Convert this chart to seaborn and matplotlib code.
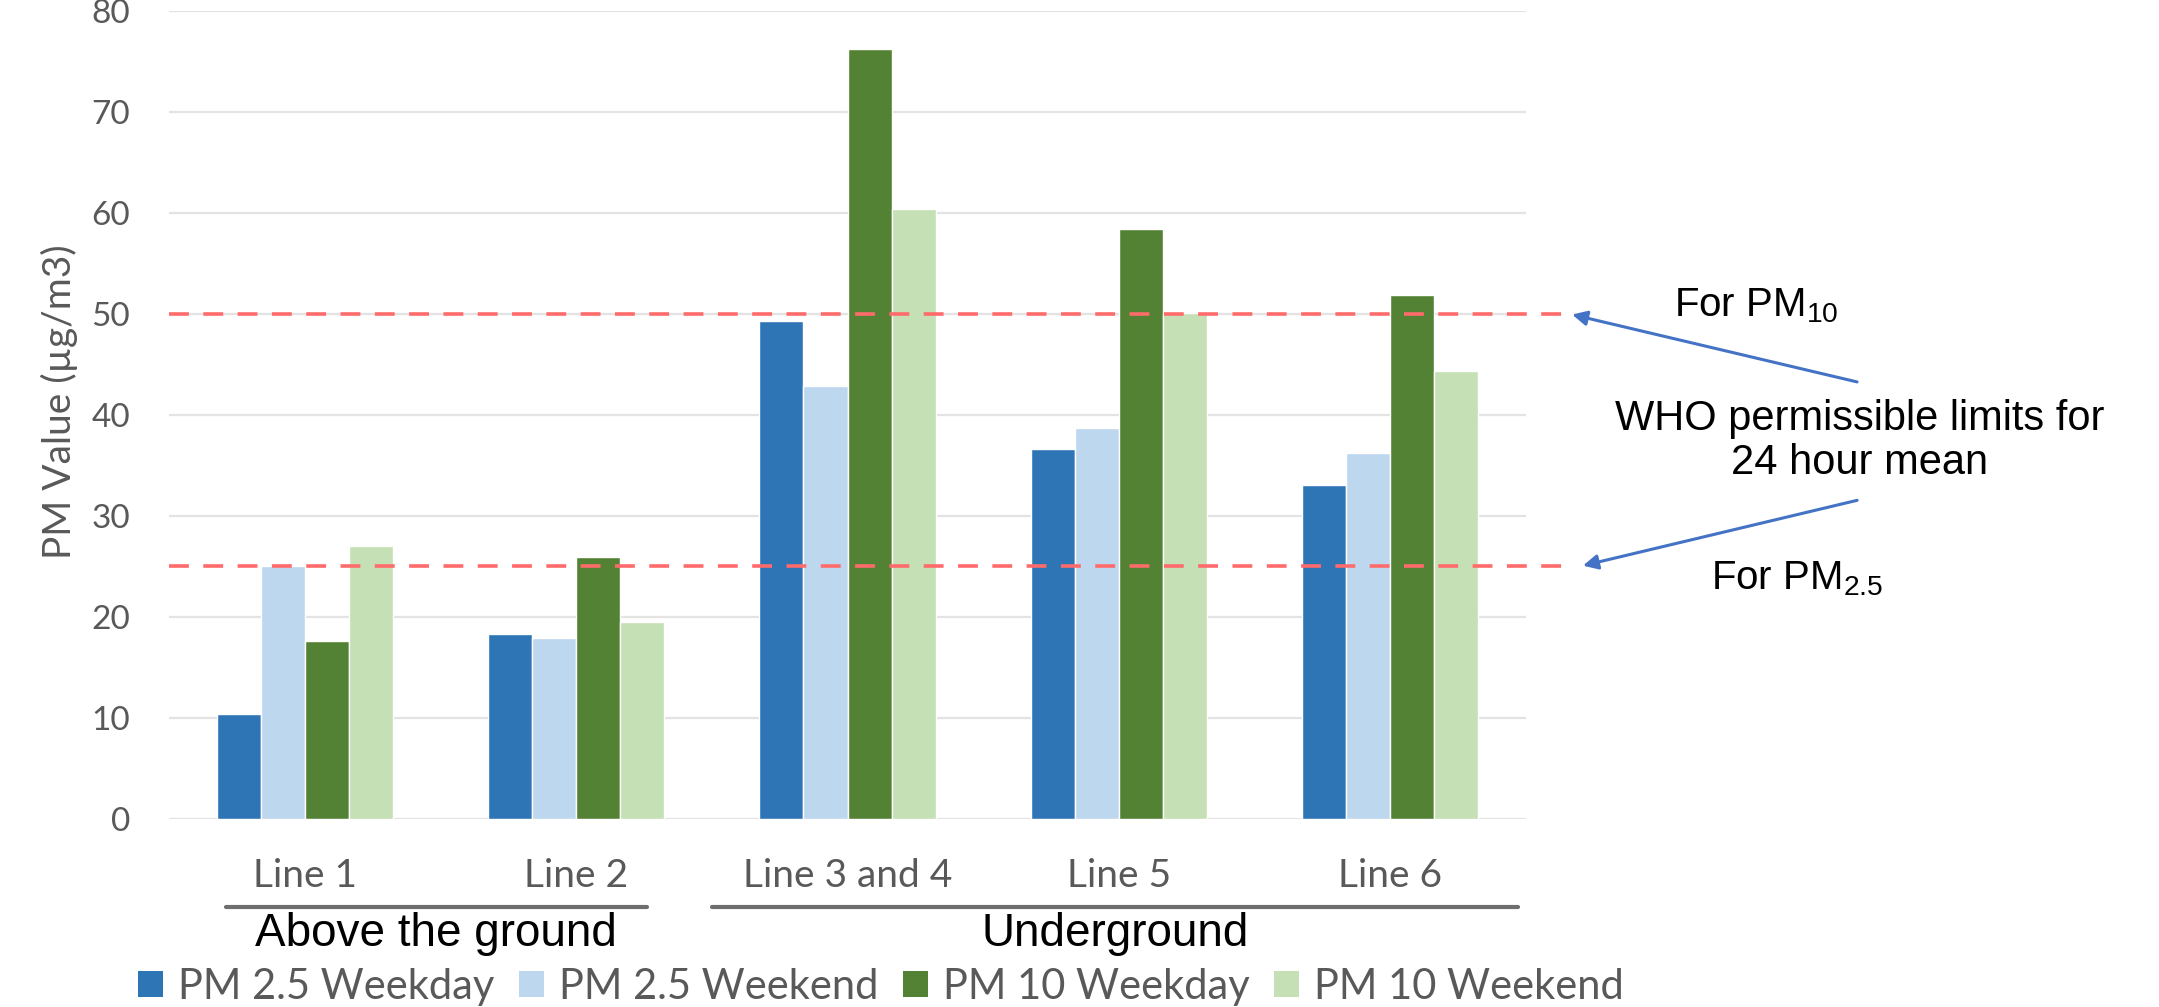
import matplotlib
matplotlib.use("Agg")
from matplotlib import pyplot as plt
from matplotlib.patches import Patch
import matplotlib.transforms as mtransforms
import pandas as pd
import seaborn as sns

# data (µg/m3)
lines = ["Line 1", "Line 2", "Line 3 and 4", "Line 5", "Line 6"]
series = ["PM 2.5 Weekday", "PM 2.5 Weekend", "PM 10 Weekday", "PM 10 Weekend"]
pm25_weekday = [10.4, 18.3, 49.3, 36.6, 33.1]
pm25_weekend = [25.0, 17.9, 42.9, 38.7, 36.2]
pm10_weekday = [17.6, 25.9, 76.2, 58.4, 51.9]
pm10_weekend = [27.0, 19.5, 60.4, 50.1, 44.3]
who_pm10 = 50
who_pm25 = 25
groups = ["Above the ground", "Underground"]
group_spans = [(-0.29, 1.26), (1.50, 4.47)]

colors = ["#2E75B6", "#BDD7EE", "#548235", "#C5E0B4"]
grey_txt = "#595959"

sns.set_theme(style="white")
plt.rcParams["font.family"] = ["Lato", "DejaVu Sans"]
plt.rcParams["mathtext.fontset"] = "custom"
plt.rcParams["mathtext.rm"] = "Liberation Sans"
plt.rcParams["mathtext.it"] = "Liberation Sans"

rows = []
for name, vals in zip(series, [pm25_weekday, pm25_weekend, pm10_weekday, pm10_weekend]):
    for ln, v in zip(lines, vals):
        rows.append({"line": ln, "series": name, "value": v})
df = pd.DataFrame(rows)

fig = plt.figure(figsize=(21.59, 10.07), dpi=100)
ax = fig.add_axes([0.0783, 0.187, 0.6285, 0.802])

sns.barplot(data=df, x="line", y="value", hue="series", order=lines, hue_order=series,
            palette=colors, saturation=1, width=0.65, ax=ax, legend=False, zorder=2)

ax.set_xlim(-0.5, 4.5)
ax.set_ylim(0, 80)
ax.set_yticks(range(0, 81, 10))
ax.yaxis.grid(True, color="#E3E3E3", lw=1.6, zorder=0)
ax.set_axisbelow(True)
for s in ax.spines.values():
    s.set_visible(False)
ax.tick_params(axis="y", length=0, pad=28, labelsize=24, labelcolor=grey_txt)
ax.tick_params(axis="x", length=0, pad=28, labelsize=28, labelcolor=grey_txt)
ax.set_xlabel("")
ax.set_ylabel("PM Value (µg/m3)", fontsize=28, color=grey_txt)
ax.yaxis.set_label_coords(-0.067, 0.516)

# WHO limits
for lim in (who_pm10, who_pm25):
    ax.axhline(lim, xmin=0, xmax=1.032, color="#FF6B6B", lw=2.6, ls=(0, (5.5, 4)),
               clip_on=False, zorder=3)

# group brackets under the x labels
trans = mtransforms.blended_transform_factory(ax.transData, ax.transAxes)
for name, (x0, x1) in zip(groups, group_spans):
    ax.plot([x0, x1], [-0.109, -0.109], color="#6E6E6E", lw=3, transform=trans, clip_on=False)
    ax.text((x0 + x1) / 2, -0.116, name, transform=trans, ha="center", va="top",
            fontsize=33, family="Liberation Sans", color="black")

# annotations on the right
arrow = dict(arrowstyle="-|>", color="#4472C4", lw=2.2, mutation_scale=22)
ax.annotate("", xy=(4.66, who_pm10), xytext=(5.73, 43.2), arrowprops=arrow, annotation_clip=False)
ax.annotate("", xy=(4.70, who_pm25), xytext=(5.73, 31.6), arrowprops=arrow, annotation_clip=False)
ax.text(5.35, 50.8, "For PM$_{10}$", ha="center", va="center", fontsize=29,
        family="Liberation Sans", color="black", clip_on=False)
ax.text(5.73, 37.4, "WHO permissible limits for\n24 hour mean", ha="center", va="center",
        fontsize=30, family="Liberation Sans", color="black", linespacing=1.15, clip_on=False)
ax.text(5.50, 23.8, "For PM$_{2.5}$", ha="center", va="center", fontsize=29,
        family="Liberation Sans", color="black", clip_on=False)

handles = [Patch(facecolor=c, edgecolor="none", label=s) for c, s in zip(colors, series)]
fig.legend(handles=handles, loc="center left", bbox_to_anchor=(0.064, 0.020), ncol=4,
           frameon=False, fontsize=30, labelcolor=grey_txt, handlelength=0.6, handleheight=0.6,
           handletextpad=0.35, columnspacing=0.6, borderaxespad=0, borderpad=0)

fig.savefig("out.png", dpi=100)
